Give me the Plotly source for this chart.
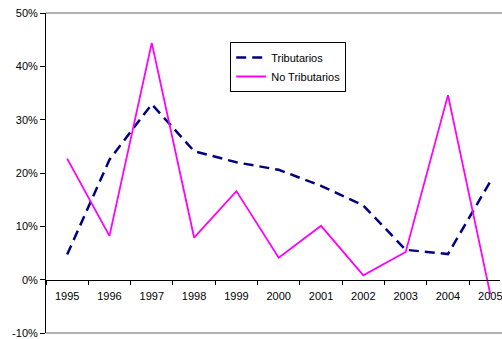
import plotly.graph_objects as go

years = ["1995", "1996", "1997", "1998", "1999", "2000",
         "2001", "2002", "2003", "2004", "2005"]
tributarios = [4.7, 22.5, 32.9, 24.1, 22.0, 20.6, 17.6, 13.9, 5.6, 4.8, 18.4]
no_tributarios = [22.7, 8.2, 44.4, 7.9, 16.6, 4.1, 10.1, 0.8, 5.2, 34.6, -2.7]
y_ticks = [-10, 0, 10, 20, 30, 40, 50]
y_labels = [f"{v}%" for v in y_ticks]

W, H = 502, 339
ML, MT, MB = 46, 13, 6
plot_h = H - MT - MB
cat_px = 42.5
x_right = -0.5 + (W - ML) / cat_px
zero_pos = (0 - (-10)) / 60.0

font = dict(family="Liberation Sans, Arial, sans-serif", size=11, color="black")

fig = go.Figure()
fig.add_trace(go.Scatter(
    x=years, y=tributarios, name="Tributarios", mode="lines",
    line=dict(color="#000080", width=2.5, dash="10px,6px"),
))
fig.add_trace(go.Scatter(
    x=years, y=no_tributarios, name="No Tributarios", mode="lines",
    line=dict(color="#FF00FF", width=1.8),
))

fig.update_layout(
    width=W, height=H,
    margin=dict(l=ML, r=0, t=MT, b=MB),
    paper_bgcolor="white", plot_bgcolor="white",
    font=font,
    showlegend=True,
    legend=dict(
        x=(231 - ML) / (W - ML), y=(H - MB - 42) / plot_h,
        xanchor="left", yanchor="top",
        bordercolor="black", borderwidth=1, bgcolor="white",
        font=font, tracegroupgap=0, itemwidth=30,
    ),
    xaxis=dict(
        type="category", range=[-0.5, x_right],
        anchor="free", position=zero_pos,
        showline=True, linecolor="black", linewidth=1,
        ticks="outside", ticklen=4, tickcolor="black",
        tickson="boundaries", showgrid=False,
        tickfont=font, ticklabelstandoff=6,
    ),
    yaxis=dict(
        range=[-10, 50], tickmode="array",
        tickvals=y_ticks, ticktext=y_labels,
        showline=True, linecolor="black", linewidth=1,
        ticks="outside", ticklen=5, tickcolor="black",
        showgrid=False, zeroline=False,
        tickfont=font,
    ),
    shapes=[
        dict(type="line", xref="paper", yref="paper", x0=0, x1=1.05, y0=1, y1=1,
             line=dict(color="#999999", width=1.5)),
        dict(type="line", xref="paper", yref="paper", x0=0, x1=1.05, y0=0, y1=0,
             line=dict(color="#999999", width=1.5)),
    ],
)

fig.write_html("out.html")
